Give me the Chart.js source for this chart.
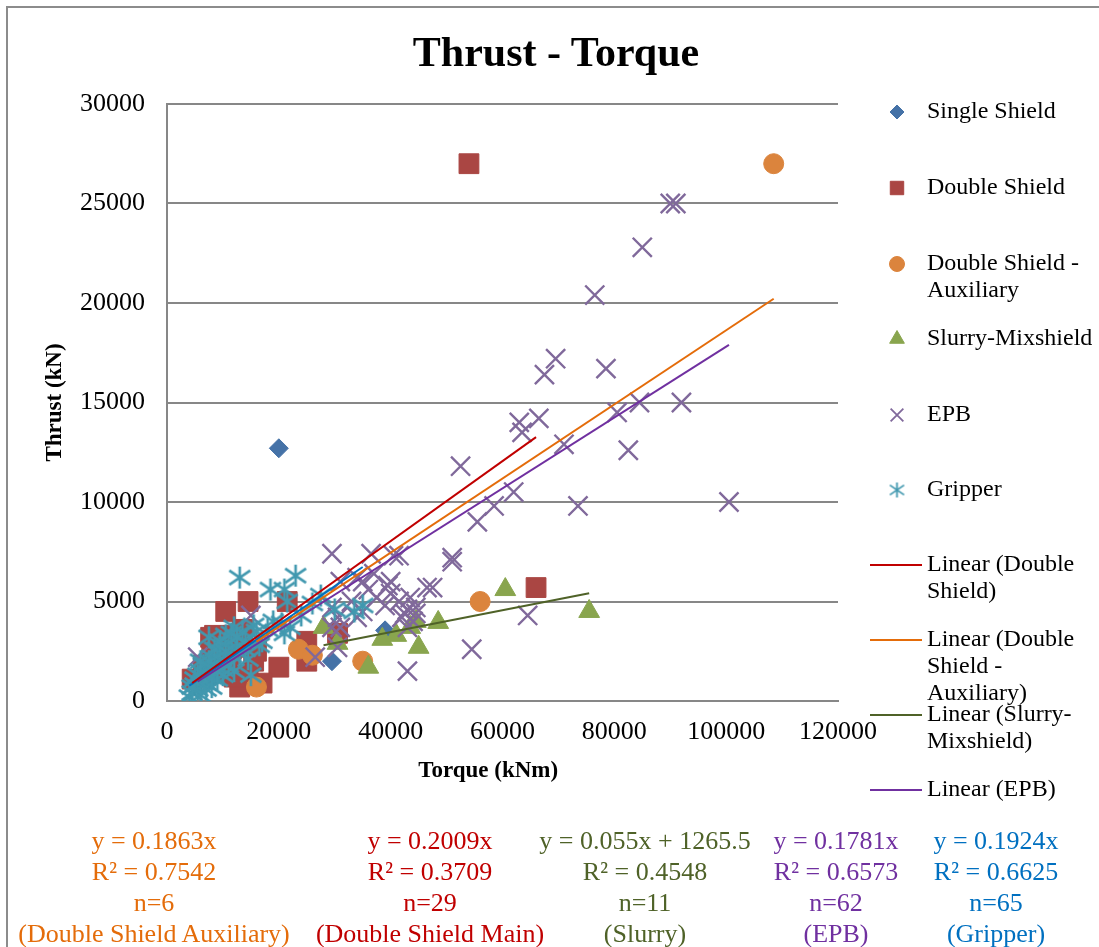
<!DOCTYPE html>
<html>
<head>
<meta charset="utf-8">
<title>Thrust - Torque</title>
<script src="https://cdn.jsdelivr.net/npm/chart.js@4.4.1/dist/chart.umd.min.js"></script>
<style>
  body { margin: 0; background: #fff; }
  #wrap { position: relative; width: 1099px; height: 947px; overflow: hidden; }
  #frame { position: absolute; left: 6px; top: 6px; width: 1200px; height: 1000px; border: 2px solid #8c8c8c; }
  #chart { position: absolute; left: 0; top: 0; }
  #title { position: absolute; left: 0; top: 27px; width: 1112px; text-align: center; line-height: 50px;
           font-family: 'Liberation Serif', 'Times New Roman', serif; font-size: 42px; font-weight: bold; }
  .eq { position: absolute; top: 825px; width: 320px; text-align: center; white-space: nowrap;
        font-family: 'Liberation Serif', 'Times New Roman', serif; font-size: 26px; line-height: 31px; }
</style>
</head>
<body>
<div id="wrap">
  <div id="frame"></div>
  <canvas id="chart" width="1099" height="947"></canvas>
  <div id="title">Thrust - Torque</div>
</div>
<script>
// 軸の範囲
const torqueMax = 120000, torqueStep = 20000;
const thrustMax = 30000, thrustStep = 5000;

// 系列データ [トルク kNm, 推力 kN]
const singleShield = [[20000, 12700], [29500, 2000], [39000, 3550]];

const doubleShield = [
  [54000, 27000], [66000, 5700], [14500, 5000], [10500, 4500], [21500, 5000], [7800, 3200],
  [9200, 2300], [4500, 1100], [13000, 700], [14500, 1300], [20000, 1700], [17000, 900],
  [25000, 2000], [25000, 3000], [30500, 3400], [16000, 2500], [8000, 2800], [10000, 3000],
  [12000, 3300], [13500, 3600], [11000, 2000], [9000, 1500], [12000, 1200], [6500, 1800],
  [15500, 2000], [13000, 2700], [8500, 3300], [11500, 2600], [7000, 1300]
];

const doubleShieldAux = [[16000, 700], [23500, 2600], [26000, 2300], [35000, 2000], [56000, 5000], [108500, 27000]];

const slurry = [
  [28000, 3700], [30500, 2900], [36000, 1700], [38500, 3100], [43500, 3700], [45000, 2700],
  [44500, 4000], [48500, 3950], [60500, 5600], [75500, 4500], [41000, 3300]
];

const epb = [
  [90000, 25000], [91000, 25000], [85000, 22800], [76500, 20400], [69500, 17200], [67500, 16400],
  [78500, 16700], [63000, 14000], [66500, 14200], [63500, 13500], [80500, 14500], [84500, 15000],
  [92000, 15000], [71000, 12900], [82500, 12600], [52500, 11800], [62000, 10500], [58500, 9800],
  [55500, 9000], [73500, 9800], [100500, 10000], [51000, 7200],
  [41500, 7300], [51000, 7000], [47500, 5700], [39500, 5800], [40000, 5400], [43500, 5200],
  [43000, 4600], [44500, 4700], [42000, 4200], [44000, 4000], [43000, 3700], [64500, 4300],
  [54500, 2600], [43000, 1500],
  [29500, 7400], [36500, 7400], [35000, 6000], [29500, 4700], [30500, 4200], [34000, 4200],
  [35000, 4500], [29500, 3700], [31000, 3700], [26500, 2200], [30500, 2700], [37500, 5200],
  [5500, 2200], [15000, 4300], [31000, 6000], [34000, 6200], [37000, 6400], [40000, 6000],
  [40500, 7300], [46500, 5700],
  [42500, 4400], [44500, 4400], [41500, 5000], [36000, 5600], [33000, 5000], [39000, 4800]
];

const gripper = [
  [13000, 6200], [18500, 5600], [21000, 5600], [23000, 6300], [21500, 5000], [27500, 5300],
  [35000, 4800], [22000, 3700], [21000, 3400], [17000, 3000], [12000, 3700], [13500, 3500],
  [15500, 3800], [7500, 3200], [15000, 1300], [11000, 2900], [10500, 3300], [9000, 2600],
  [8000, 2200], [6000, 1500], [5000, 800], [4500, 400], [4000, 200], [5500, 600],
  [6500, 1000], [7000, 900], [7500, 1400], [8500, 1800], [9500, 2100], [10000, 1600],
  [11500, 2300], [12500, 2700], [13000, 2400], [14000, 3000], [14500, 2100], [16000, 3500],
  [19000, 4000], [20500, 3900], [6000, 300], [7000, 600], [8000, 700], [9000, 1100],
  [10000, 1300], [11000, 1800], [12000, 1500], [5000, 1100], [6500, 1800], [7500, 2000],
  [8500, 2600], [9500, 3000], [10500, 2500], [11500, 3400], [12500, 3200], [14000, 2600],
  [16500, 2800], [18000, 3600], [24000, 4300], [26000, 4900], [30000, 4600], [33500, 4500],
  [4500, 700], [5500, 1300], [8000, 1200], [9000, 1500], [6000, 2000]
];

// 近似直線 (図の数式より)
const trendNames = ['Double Shield Auxiliary', 'Double Shield Main', 'Slurry', 'EPB', 'Gripper'];
const trendSlopes = [0.1863, 0.2009, 0.055, 0.1781, 0.1924];
const trendIntercepts = [0, 0, 1265.5, 0, 0];
const trendR2 = ['0.7542', '0.3709', '0.4548', '0.6573', '0.6625'];
const trendN = [6, 29, 11, 62, 65];
const trendColors = ['#E46C0A', '#C00000', '#4F6228', '#7030A0', '#0070C0'];

const serif = "'Liberation Serif', 'Times New Roman', serif";
Chart.defaults.font.family = serif;
Chart.defaults.color = '#000';

// アスタリスク型マーカー
function makeStar(r, color, lw) {
  const c = document.createElement('canvas');
  const s = Math.ceil(r * 2 + lw * 2);
  c.width = s;
  c.height = s;
  const g = c.getContext('2d');
  g.strokeStyle = color;
  g.lineWidth = lw;
  const m = s / 2, dx = r * 0.95, dy = r * 0.65;
  g.beginPath();
  g.moveTo(m, m - r); g.lineTo(m, m + r);
  g.moveTo(m - dx, m - dy); g.lineTo(m + dx, m + dy);
  g.moveTo(m + dx, m - dy); g.lineTo(m - dx, m + dy);
  g.stroke();
  return c;
}

const gripperColor = '#4198AF';
const starBig = makeStar(11, gripperColor, 2.6);
const starSmall = makeStar(7.5, gripperColor, 1.8);

function toPoints(arr) {
  return arr.map(p => ({ x: p[0], y: p[1] }));
}

// データ範囲の端から端まで近似直線
function trendPoints(arr, slope, intercept) {
  const xs = arr.map(p => p[0]);
  const x0 = Math.min(...xs), x1 = Math.max(...xs);
  return [{ x: x0, y: slope * x0 + intercept }, { x: x1, y: slope * x1 + intercept }];
}

function markerSet(label, arr, style, color, radius, order, extra = {}) {
  return Object.assign({
    label, data: toPoints(arr), pointStyle: style, pointRadius: radius,
    backgroundColor: color, borderColor: color, pointBorderWidth: 1, order
  }, extra);
}

function trendSet(label, arr, i, hidden) {
  return {
    label, data: trendPoints(arr, trendSlopes[i], trendIntercepts[i]), showLine: true,
    pointRadius: 0, borderColor: trendColors[i], borderWidth: 2, fill: false, order: 0,
    isTrend: true, noLegend: hidden
  };
}

const datasets = [
  markerSet('Single Shield', singleShield, 'rectRot', '#4572A7', 9.5, 6),
  markerSet('Double Shield', doubleShield, 'rect', '#AA4643', 14, 5),
  markerSet('Double Shield - Auxiliary', doubleShieldAux, 'circle', '#DB843D', 10, 4),
  markerSet('Slurry-Mixshield', slurry, 'triangle', '#89A54E', 12, 3),
  markerSet('EPB', epb, 'crossRot', '#80699B', 13.5, 2, { pointBorderWidth: 2.4 }),
  markerSet('Gripper', gripper, starBig, gripperColor, 11, 1),
  trendSet('Linear (Double Shield)', doubleShield, 1),
  trendSet('Linear (Double Shield - Auxiliary)', doubleShieldAux, 0),
  trendSet('Linear (Slurry-Mixshield)', slurry, 2),
  trendSet('Linear (EPB)', epb, 3),
  trendSet('Linear (Gripper)', gripper, 4, true)
];

// 右側の凡例 (改行位置は元図に合わせる)
const legendRows = [
  { i: 0, y: 112, lines: ['Single Shield'], r: 7 },
  { i: 1, y: 188, lines: ['Double Shield'], r: 9.5 },
  { i: 2, y: 264, lines: ['Double Shield -', 'Auxiliary'], r: 7.5 },
  { i: 3, y: 339, lines: ['Slurry-Mixshield'], r: 8.5 },
  { i: 4, y: 415, lines: ['EPB'], r: 9 },
  { i: 5, y: 490, lines: ['Gripper'], r: 7 },
  { i: 6, y: 565, lines: ['Linear (Double', 'Shield)'] },
  { i: 7, y: 640, lines: ['Linear (Double', 'Shield -', 'Auxiliary)'] },
  { i: 8, y: 715, lines: ['Linear (Slurry-', 'Mixshield)'] },
  { i: 9, y: 790, lines: ['Linear (EPB)'] }
];

const sideLegend = {
  id: 'sideLegend',
  afterDraw(chart) {
    const ctx = chart.ctx;
    ctx.save();
    legendRows.forEach(row => {
      const ds = chart.data.datasets[row.i];
      if (ds.isTrend) {
        ctx.strokeStyle = ds.borderColor;
        ctx.lineWidth = 2;
        ctx.beginPath();
        ctx.moveTo(870, row.y);
        ctx.lineTo(922, row.y);
        ctx.stroke();
      } else if (ds.pointStyle === starBig) {
        ctx.drawImage(starSmall, 897 - starSmall.width / 2, row.y - starSmall.height / 2);
      } else {
        ctx.fillStyle = ds.backgroundColor;
        ctx.strokeStyle = ds.borderColor;
        ctx.lineWidth = ds.pointStyle === 'crossRot' ? 1.8 : 1;
        Chart.helpers.drawPoint(ctx, { pointStyle: ds.pointStyle, radius: row.r, rotation: 0, borderWidth: ctx.lineWidth }, 897, row.y);
      }
      ctx.fillStyle = '#000';
      ctx.font = '24px ' + serif;
      ctx.textBaseline = 'middle';
      ctx.textAlign = 'left';
      row.lines.forEach((t, k) => ctx.fillText(t, 927, row.y + k * 27));
    });
    ctx.restore();
  }
};

new Chart(document.getElementById('chart'), {
  type: 'scatter',
  data: { datasets },
  options: {
    responsive: false,
    animation: false,
    layout: { padding: { top: 104, left: 0, right: 261, bottom: 162 } },
    plugins: {
      legend: { display: false },
      tooltip: { enabled: false },
      title: { display: false }
    },
    scales: {
      x: {
        type: 'linear', min: 0, max: torqueMax,
        afterFit: s => { s.height = 84; },
        ticks: { stepSize: torqueStep, padding: 16, font: { size: 26 }, color: '#000', maxRotation: 0, callback: v => String(v) },
        grid: { display: false, drawTicks: false },
        border: { display: true, color: '#878787', width: 2 },
        // 元図はタイトルがやや左寄り
        title: { display: true, text: 'Torque (kNm)\u00a0\u00a0\u00a0\u00a0\u00a0', font: { size: 23, weight: 'bold' }, padding: { top: 0, bottom: 0 } }
      },
      y: {
        type: 'linear', min: 0, max: thrustMax,
        afterFit: s => { s.width = 167; },
        ticks: { stepSize: thrustStep, padding: 22, font: { size: 26 }, color: '#000', callback: v => String(v) },
        grid: { color: '#878787', lineWidth: 2, drawTicks: false },
        border: { display: true, color: '#878787', width: 2 },
        title: { display: true, text: 'Thrust (kN)', font: { size: 23, weight: 'bold' }, padding: { top: 41, bottom: 0 } }
      }
    }
  },
  plugins: [sideLegend]
});

// 下部の近似式テキスト
const eqCenters = [154, 430, 645, 836, 996];
const wrap = document.getElementById('wrap');
trendNames.forEach((name, i) => {
  const div = document.createElement('div');
  div.className = 'eq';
  div.style.left = (eqCenters[i] - 160) + 'px';
  div.style.color = trendColors[i];
  const eq = 'y = ' + trendSlopes[i] + 'x' + (trendIntercepts[i] ? ' + ' + trendIntercepts[i] : '');
  div.innerHTML = eq + '<br>R² = ' + trendR2[i] + '<br>n=' + trendN[i] + '<br>(' + name + ')';
  wrap.appendChild(div);
});
</script>
</body>
</html>
